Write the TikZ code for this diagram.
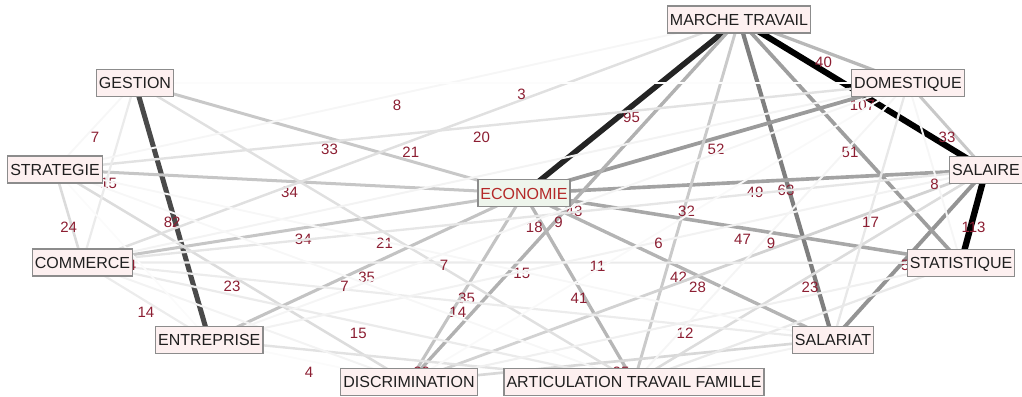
\documentclass[tikz,border=0pt]{standalone}
\usepackage{fontspec}
\setmainfont{Liberation Sans}
\usetikzlibrary{backgrounds}
\definecolor{labred}{RGB}{140,30,50}
\definecolor{boxfill}{RGB}{253,240,240}
\definecolor{ecofill}{RGB}{238,245,236}
\definecolor{ecored}{RGB}{180,40,40}
\tikzset{
  term/.style={draw=black!45, line width=1.2pt, fill=boxfill, inner xsep=2.5pt,
    inner ysep=0pt, minimum height=27pt, text height=11.5pt, text depth=0pt,
    font=\fontsize{16}{16}\selectfont, text=black!88},
  hub/.style={term, fill=ecofill, text=ecored},
  weight/.style={font=\fontsize{15}{15}\selectfont, text=labred, inner sep=0pt}
}
% shade and width of a link grow with its weight
\newcommand{\link}[3]{
  \pgfmathsetmacro{\shade}{min(100,100*(#3/107)^1.3)}
  \pgfmathsetmacro{\thick}{1.6+#3/24}
  \draw[black!\shade, line width=\thick pt] (#1.center) -- (#2.center);
}

\begin{document}
\begin{tikzpicture}[x=1pt,y=-1pt]
  \useasboundingbox (0,0) rectangle (1022,396);

  \node[term] (mt)  at (739,19.5)  {MARCHE TRAVAIL};
  \node[term] (ge)  at (135,83)    {GESTION};
  \node[term] (do)  at (908,83)    {DOMESTIQUE};
  \node[term] (st)  at (55,169.5)  {STRATEGIE};
  \node[term] (sa)  at (986,170)   {SALAIRE};
  \node[hub]  (ec)  at (524,193.3) {ECONOMIE};
  \node[term] (co)  at (82.5,262.5) {COMMERCE};
  \node[term] (sta) at (961,262.7) {STATISTIQUE};
  \node[term] (en)  at (209.3,340) {ENTREPRISE};
  \node[term] (sal) at (833,339.7) {SALARIAT};
  \node[term] (di)  at (409,382)   {DISCRIMINATION};
  \node[term] (ar)  at (634,382)   {ARTICULATION TRAVAIL FAMILLE};

  \begin{pgfonlayer}{background}
    % heavy links first, light ones end up on top
    \foreach \a/\b/\w/\t in {sa/sta/113/113, mt/sa/107/107, mt/ec/95/95,
      ge/en/82/82, mt/sal/63/63, sa/sal/55/55, ec/do/52/52, mt/sta/51/51,
      ec/sa/49/49, ec/sta/47/47, mt/di/43/43, ec/sal/42/42, ec/ar/41/41,
      mt/do/40/40, ec/en/35/35, ec/di/35/35, ec/st/34/34, ec/co/34/34,
      ge/ec/33/33, do/sa/33/33, mt/ar/32/32, sa/di/28/28, sal/di/25/25,
      st/co/24/24, st/di/23/23, sa/ar/23/23, mt/co/21/21, ge/ar/21/21,
      st/do/20/20, en/ar/20/20, co/sa/18/18, do/sal/17/17, sta/ar/16/{},
      ge/co/15/15, co/sta/15/15, co/ar/15/15, co/en/14/14, co/sal/14/14,
      sta/di/12/12, en/sa/11/11, co/do/10/{}, co/di/10/{}, sal/ar/10/{},
      do/en/9/9, do/ar/9/9, mt/st/8/8, do/sta/8/8, ge/st/7/7, st/sal/7/7,
      st/ar/7/7, do/di/6/6, st/en/4/4, en/di/4/4, ge/do/3/3}{
      \link{\a}{\b}{\w}
      \path (\a.center) -- (\b.center) node[weight, midway, yshift=-11pt] {\t};
    }
  \end{pgfonlayer}
\end{tikzpicture}
\end{document}
